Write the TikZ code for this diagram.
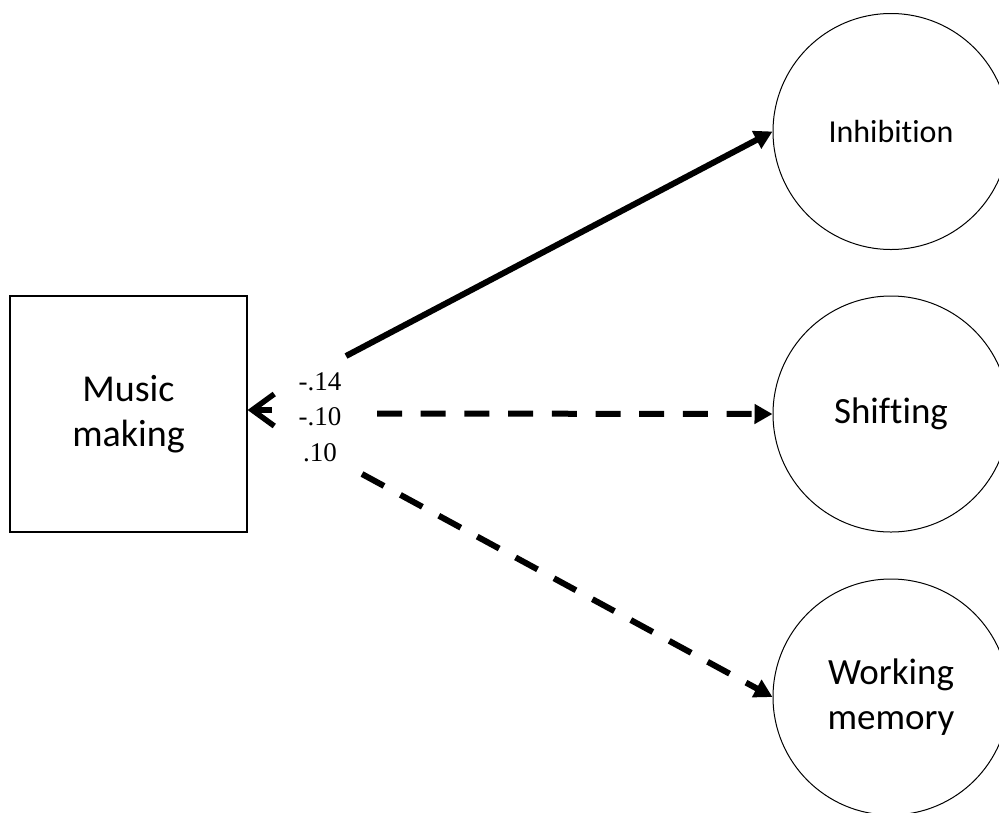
\documentclass[tikz,border=0pt]{standalone}
\usepackage{fontspec}
\setmainfont{Carlito}[Ligatures={NoCommon,NoRequired,NoContextual}]
\newfontfamily\numfont{Liberation Serif}
\usetikzlibrary{arrows.meta}
\begin{document}
\begin{tikzpicture}[x=1pt,y=-1pt,
  latent/.style={circle,draw,line width=1pt,minimum size=236pt,inner sep=0pt,align=center,font=\fontsize{37}{45}\selectfont},
  observed/.style={rectangle,draw,line width=1.2pt,minimum width=237pt,minimum height=236pt,inner sep=0pt,align=center,font=\fontsize{38}{45}\selectfont},
  effect/.style={line width=6pt,-{Triangle[length=18pt,width=19pt]}},
  nonsig/.style={effect,dash pattern=on 25pt off 18.7pt},
  backarrow/.style={line width=5.5pt,-{Straight Barb[length=22pt,width=32pt]}},
  coef/.style={font=\numfont\fontsize{27}{30}\selectfont,inner sep=0pt}]
\useasboundingbox (0,0) rectangle (999,812);
\node[observed] (mm) at (128.5,414) {Music\\making};
\node[latent,font=\fontsize{32}{38}\selectfont] (inh) at (891,131.5) {Inhibition};
\node[latent] (shi) at (891,414) {Shifting};
\node[latent] (wm) at (891,697) {Working\\memory};
\node[coef] (c1) at (320,382) {-.14};
\node[coef] (c2) at (320,417) {-.10};
\node[coef] (c3) at (320,453) {.10};
\coordinate (s1) at (346,356);
\coordinate (s2) at (377,413.5);
\coordinate (s3) at (362,474);
\coordinate (b0) at (272,410);
\draw[effect] (s1) -- (inh.west);
\draw[nonsig] (s2) -- (shi.west);
\draw[nonsig] (s3) -- (wm.west);
\draw[backarrow] (b0) -- (b0 -| mm.east);
\end{tikzpicture}
\end{document}
